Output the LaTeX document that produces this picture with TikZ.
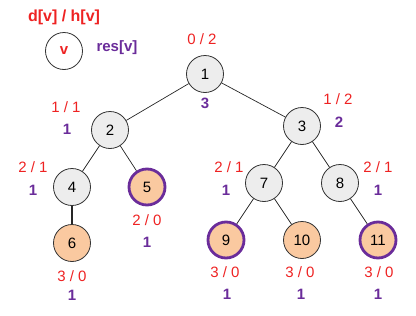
\documentclass[tikz,border=0pt]{standalone}
\usepackage{fontspec}
\setmainfont{Liberation Sans}
\definecolor{lred}{HTML}{EE2222}
\definecolor{lpurple}{HTML}{6A2C9A}
\definecolor{peach}{HTML}{FAC9A0}
\definecolor{lgray}{HTML}{EDEDED}
\begin{document}
\begin{tikzpicture}[x=1pt,y=-1pt,
  vert/.style={circle,draw=black!80,line width=0.8pt,minimum size=37pt,inner sep=0pt,fill=lgray,font=\fontsize{15}{17}\selectfont},
  leaf/.style={vert,fill=peach},
  hl/.style={draw=lpurple,line width=2.8pt,minimum size=36pt},
  dh/.style={text=lred,font=\fontsize{15}{17}\selectfont,inner sep=0pt},
  rs/.style={text=lpurple,font=\fontsize{15}{17}\selectfont\bfseries,inner sep=0pt},
  edge/.style={draw=black!85,line width=0.7pt}]
\useasboundingbox (0,0) rectangle (416,316);
% legend
\node[dh,font=\fontsize{16}{18}\selectfont\bfseries] (lt) at (64,17.5) {d[v] / h[v]};
\node[vert,fill=white,text=lred,font=\fontsize{15}{17}\selectfont\bfseries] (lv) at (64,51) {v};
\node[rs] (lr) at (117,48) {res[v]};
% nodes
\node[vert] (n1) at (205,74) {1};
\node[vert] (n2) at (110,130) {2};
\node[vert] (n3) at (302,126) {3};
\node[vert] (n4) at (72,187) {4};
\node[leaf,hl] (n5) at (147,187) {5};
\node[leaf] (n6) at (72,243) {6};
\node[vert] (n7) at (264,183) {7};
\node[vert] (n8) at (340,183) {8};
\node[leaf,hl] (n9) at (226,240) {9};
\node[leaf] (n10) at (302,240) {10};
\node[leaf,hl] (n11) at (378,240) {11};
% edges
\draw[edge] (n1) -- (n2);
\draw[edge] (n1) -- (n3);
\draw[edge] (n2) -- (n4);
\draw[edge] (n2) -- (n5);
\draw[edge,line width=1.4pt] (n4) -- (n6);
\draw[edge] (n3) -- (n7);
\draw[edge] (n3) -- (n8);
\draw[edge] (n7) -- (n9);
\draw[edge] (n7) -- (n10);
\draw[edge] (n8) -- (n11);
% labels
\node[dh] (d1) at (202,39.5) {0 / 2};
\node[rs] (r1) at (205,103) {3};
\node[dh] (d2) at (66,107) {1 / 1};
\node[rs] (r2) at (67,129) {1};
\node[dh] (d3) at (338,99) {1 / 2};
\node[rs] (r3) at (339,122) {2};
\node[dh] (d4) at (33,167) {2 / 1};
\node[rs] (r4) at (33,190) {1};
\node[dh] (d5) at (147,220) {2 / 0};
\node[rs] (r5) at (147,242) {1};
\node[dh] (d6) at (72,276) {3 / 0};
\node[rs] (r6) at (72,295) {1};
\node[dh] (d7) at (229,167) {2 / 1};
\node[rs] (r7) at (226,190) {1};
\node[dh] (d8) at (378,167) {2 / 1};
\node[rs] (r8) at (378,190) {1};
\node[dh] (d9) at (225,272) {3 / 0};
\node[rs] (r9) at (227,294) {1};
\node[dh] (d10) at (300,272) {3 / 0};
\node[rs] (r10) at (301,294) {1};
\node[dh] (d11) at (379,272) {3 / 0};
\node[rs] (r11) at (378,294) {1};
\end{tikzpicture}
\end{document}
